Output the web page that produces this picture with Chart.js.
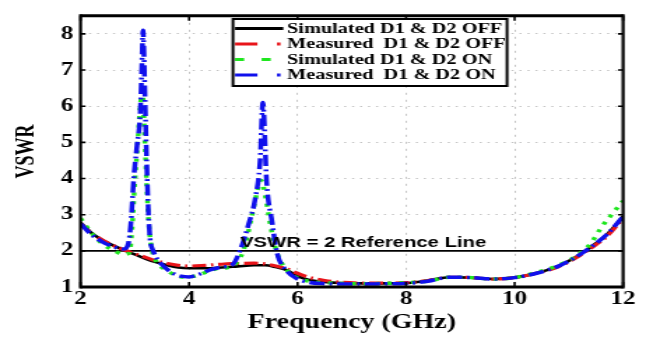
<!DOCTYPE html>
<html>
<head>
<meta charset="utf-8">
<script src="https://cdn.jsdelivr.net/npm/chart.js@4.4.0/dist/chart.umd.min.js"></script>
<style>
  html, body { margin: 0; padding: 0; background: #fff; overflow: hidden; }
  /* the plot is drawn narrow and widened, so the serif text comes out broad like the figure */
  #wrap { width: 462px; height: 338px; transform: scaleX(1.3983); transform-origin: 0 0; }
</style>
</head>
<body>
<div id="wrap"><canvas id="vswrChart" width="462" height="338"></canvas></div>
<script>
// axis ticks
const xTicks = [2, 4, 6, 8, 10, 12];
const yTicks = [1, 2, 3, 4, 5, 6, 7, 8];

const legendLabels = [
    'Simulated D1 & D2 OFF',
    'Measured  D1 & D2 OFF',
    'Simulated D1 & D2 ON',
    'Measured  D1 & D2 ON'
];

// Simulated, diodes off
const simOffFreq = [2.0, 2.2, 2.4, 2.6, 2.8, 3.0, 3.2, 3.4, 3.6, 3.8, 4.0, 4.3, 4.6, 4.9, 5.2, 5.4, 5.6, 5.8, 6.0, 6.2, 6.5, 6.8, 7.2, 7.6, 8.0, 8.4, 8.8, 9.2, 9.6, 10.0, 10.4, 10.8, 11.1, 11.4, 11.7, 12.0];
const simOffVswr = [2.78, 2.5, 2.3, 2.15, 2.02, 1.9, 1.78, 1.68, 1.6, 1.54, 1.52, 1.52, 1.54, 1.57, 1.6, 1.6, 1.55, 1.47, 1.3, 1.2, 1.14, 1.11, 1.1, 1.1, 1.11, 1.18, 1.27, 1.26, 1.22, 1.26, 1.38, 1.58, 1.8, 2.1, 2.45, 2.95];

// Measured, diodes off
const measOffFreq = [2.0, 2.2, 2.4, 2.6, 2.8, 3.0, 3.2, 3.4, 3.6, 3.8, 4.0, 4.3, 4.6, 4.9, 5.2, 5.4, 5.6, 5.8, 6.0, 6.2, 6.5, 6.8, 7.2, 7.6, 8.0, 8.4, 8.8, 9.2, 9.6, 10.0, 10.4, 10.8, 11.1, 11.4, 11.7, 12.0];
const measOffVswr = [2.75, 2.48, 2.3, 2.15, 2.03, 1.92, 1.82, 1.72, 1.65, 1.6, 1.58, 1.6, 1.63, 1.65, 1.66, 1.64, 1.58, 1.5, 1.38, 1.27, 1.18, 1.13, 1.11, 1.11, 1.12, 1.18, 1.27, 1.26, 1.22, 1.26, 1.38, 1.56, 1.78, 2.07, 2.4, 2.9];

// Simulated, diodes on
const simOnFreq = [2.0, 2.2, 2.4, 2.6, 2.8, 2.9, 2.95, 3.0, 3.05, 3.1, 3.14, 3.18, 3.22, 3.26, 3.32, 3.4, 3.6, 3.8, 3.95, 4.1, 4.3, 4.5, 4.8, 5.0, 5.15, 5.25, 5.33, 5.42, 5.5, 5.62, 5.8, 6.0, 6.2, 6.5, 6.8, 7.2, 7.6, 8.0, 8.4, 8.8, 9.2, 9.6, 10.0, 10.4, 10.8, 11.1, 11.4, 11.6, 11.8, 12.0];
const simOnVswr = [2.9, 2.5, 2.2, 2.02, 1.9, 1.95, 2.6, 3.9, 4.9, 6.0, 6.4, 5.2, 3.8, 2.7, 2.0, 1.7, 1.45, 1.3, 1.27, 1.3, 1.4, 1.5, 1.58, 2.0, 2.9, 3.6, 3.95, 3.4, 2.7, 1.95, 1.47, 1.25, 1.16, 1.12, 1.1, 1.09, 1.1, 1.12, 1.16, 1.27, 1.26, 1.22, 1.26, 1.4, 1.6, 1.82, 2.2, 2.65, 3.02, 3.38];

// Measured, diodes on
const measOnFreq = [2.0, 2.2, 2.4, 2.6, 2.8, 2.88, 2.93, 2.98, 3.04, 3.1, 3.13, 3.15, 3.19, 3.22, 3.25, 3.28, 3.34, 3.41, 3.55, 3.7, 3.85, 4.0, 4.2, 4.4, 4.6, 4.8, 4.95, 5.1, 5.22, 5.31, 5.36, 5.43, 5.53, 5.62, 5.8, 6.0, 6.2, 6.5, 6.8, 7.2, 7.6, 8.0, 8.4, 8.8, 9.2, 9.6, 10.0, 10.4, 10.8, 11.1, 11.4, 11.7, 12.0];
const measOnVswr = [2.75, 2.45, 2.25, 2.12, 2.05, 2.2, 2.8, 4.0, 4.9, 5.8, 7.1, 8.1, 6.1, 4.4, 3.1, 2.35, 2.0, 1.78, 1.55, 1.38, 1.3, 1.28, 1.36, 1.48, 1.55, 1.62, 2.05, 2.75, 3.45, 4.5, 6.1, 3.9, 2.8, 1.95, 1.45, 1.22, 1.13, 1.09, 1.08, 1.08, 1.09, 1.1, 1.16, 1.27, 1.26, 1.22, 1.26, 1.38, 1.57, 1.8, 2.1, 2.45, 2.95];

// VSWR = 2 reference
const refFreq = [2, 12];
const refVswr = [2, 2];
const refLabel = 'VSWR = 2 Reference Line';

const toPoints = (xs, ys) => xs.map((x, i) => ({ x: x, y: ys[i] }));

const serif = 'Liberation Serif';
const sans = 'Liberation Sans';

const styles = [
    { color: '#000000', width: 2.6, dash: [], legendDash: [] },
    { color: '#e8141a', width: 3.2, dash: [10, 3.5, 1.6, 3.5], legendDash: [16, 14, 2.5, 20] },
    { color: '#1ee61e', width: 3.4, dash: [3, 5.5], legendDash: [6.5, 12.5] },
    { color: '#1010ec', width: 3.5, dash: [11, 3.5, 1.8, 3.5], legendDash: [16, 14, 2.5, 20] }
];

const series = [
    toPoints(simOffFreq, simOffVswr),
    toPoints(measOffFreq, measOffVswr),
    toPoints(simOnFreq, simOnVswr),
    toPoints(measOnFreq, measOnVswr)
];

// draw order: higher order goes underneath
const drawOrder = [5, 4, 2, 1];

const datasets = series.map((pts, i) => ({
    label: legendLabels[i],
    data: pts,
    borderColor: styles[i].color,
    borderWidth: styles[i].width,
    borderDash: styles[i].dash,
    pointRadius: 0,
    cubicInterpolationMode: 'monotone',
    order: drawOrder[i]
}));

datasets.push({
    label: refLabel,
    data: toPoints(refFreq, refVswr),
    borderColor: '#000000',
    borderWidth: 1.8,
    pointRadius: 0,
    order: 6
});

// frame, inward ticks, reference caption and boxed legend
const decorPlugin = {
    id: 'decor',
    afterDatasetsDraw(chart) {
        const ctx = chart.ctx;
        const area = chart.chartArea;
        const xs = chart.scales.x;
        const ys = chart.scales.y;

        ctx.save();

        // caption above the reference line
        ctx.fillStyle = '#000';
        ctx.font = 'bold 14.5px "' + sans + '"';
        ctx.textBaseline = 'alphabetic';
        ctx.textAlign = 'left';
        ctx.fillText(refLabel, xs.getPixelForValue(4.94), ys.getPixelForValue(2) - 3.5);

        // inward tick marks
        ctx.strokeStyle = '#000';
        ctx.lineWidth = 1.6;
        ctx.beginPath();
        yTicks.forEach(v => {
            const py = ys.getPixelForValue(v);
            ctx.moveTo(area.left, py); ctx.lineTo(area.left + 3.6, py);
            ctx.moveTo(area.right, py); ctx.lineTo(area.right - 3.6, py);
        });
        xTicks.forEach(v => {
            const px = xs.getPixelForValue(v);
            ctx.moveTo(px, area.bottom); ctx.lineTo(px, area.bottom - 5);
            ctx.moveTo(px, area.top); ctx.lineTo(px, area.top + 5);
        });
        ctx.stroke();

        // heavy frame
        ctx.lineWidth = 2.2;
        ctx.beginPath();
        ctx.moveTo(area.left, area.top - 1.5); ctx.lineTo(area.left, area.bottom + 1.5);
        ctx.moveTo(area.right, area.top - 1.5); ctx.lineTo(area.right, area.bottom + 1.5);
        ctx.stroke();
        ctx.lineWidth = 3;
        ctx.beginPath();
        ctx.moveTo(area.left, area.top); ctx.lineTo(area.right, area.top);
        ctx.moveTo(area.left, area.bottom); ctx.lineTo(area.right, area.bottom);
        ctx.stroke();

        // legend box
        const bx = 166.6, by = 19, bw = 196, bh = 67;
        ctx.fillStyle = '#fff';
        ctx.fillRect(bx, by, bw, bh);
        ctx.lineWidth = 2;
        ctx.strokeStyle = '#000';
        ctx.strokeRect(bx, by, bw, bh);

        const rowY = [28.5, 44, 59.5, 75];
        ctx.font = 'bold 14.5px "' + serif + '"';
        ctx.textBaseline = 'middle';
        legendLabels.forEach((txt, i) => {
            ctx.strokeStyle = styles[i].color;
            ctx.lineWidth = 3;
            ctx.setLineDash(styles[i].legendDash);
            ctx.beginPath();
            ctx.moveTo(bx + 1.5, rowY[i]);
            ctx.lineTo(bx + 36, rowY[i]);
            ctx.stroke();
            ctx.setLineDash([]);
            ctx.fillStyle = '#000';
            ctx.fillText(txt, 205.3, rowY[i] + 0.5);
        });

        ctx.restore();
    }
};

const ctx = document.getElementById('vswrChart').getContext('2d');
const vswrChart = new Chart(ctx, {
    type: 'line',
    data: { datasets: datasets },
    options: {
        responsive: false,
        animation: false,
        devicePixelRatio: 1,
        layout: { padding: { left: 0, right: 16.4, top: 10, bottom: 0 } },
        plugins: {
            legend: { display: false },
            tooltip: { enabled: false }
        },
        scales: {
            x: {
                type: 'linear',
                min: 2,
                max: 12,
                afterBuildTicks: scale => { scale.ticks = xTicks.map(v => ({ value: v })); },
                afterFit: scale => { scale.height = 51; },
                ticks: {
                    color: '#000',
                    padding: 2,
                    maxRotation: 0,
                    autoSkip: false,
                    font: { family: serif, weight: 'bold', size: 18 }
                },
                grid: { color: '#c4c4c4', lineWidth: 1, drawTicks: false },
                border: { display: false, dash: [2, 5] },
                title: {
                    display: true,
                    text: 'Frequency (GHz)',
                    color: '#000',
                    padding: { top: 0, bottom: 3 },
                    font: { family: serif, weight: 'bold', size: 20 }
                }
            },
            y: {
                type: 'linear',
                min: 1,
                max: 8.5,
                afterBuildTicks: scale => { scale.ticks = yTicks.map(v => ({ value: v })); },
                afterFit: scale => { scale.width = 57.6; },
                ticks: {
                    color: '#000',
                    padding: 5,
                    font: { family: serif, weight: 'bold', size: 18 }
                },
                grid: { color: '#c4c4c4', lineWidth: 1, drawTicks: false },
                border: { display: false, dash: [1.5, 4.2] },
                title: {
                    display: true,
                    text: 'VSWR',
                    color: '#000',
                    padding: { top: 8.5, bottom: 0 },
                    font: { family: serif, weight: 'bold', size: 18 }
                }
            }
        }
    },
    plugins: [decorPlugin]
});
</script>
</body>
</html>
